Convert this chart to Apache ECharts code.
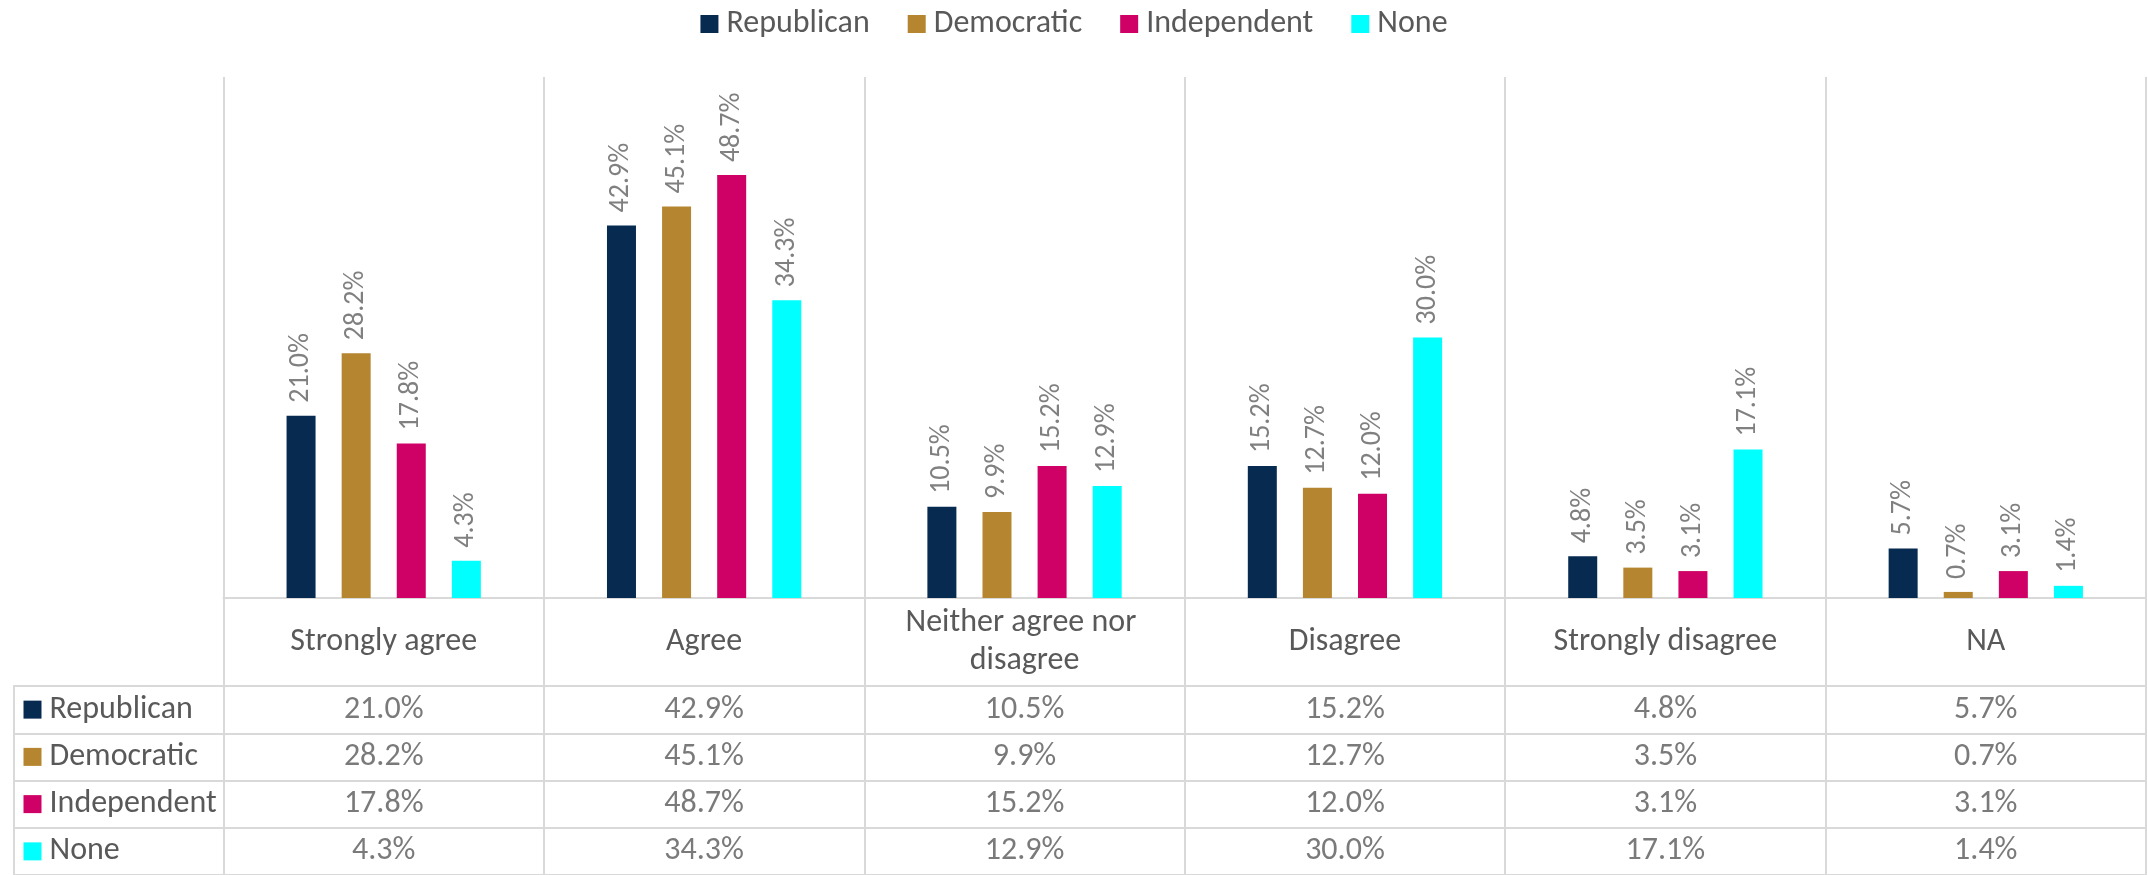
<!DOCTYPE html>
<html>
<head>
<meta charset="utf-8">
<script src="https://cdn.jsdelivr.net/npm/echarts@6/dist/echarts.min.js"></script>
<style>
html,body{margin:0;padding:0;background:#fff;}
#chart{width:2148px;height:875px;}
</style>
</head>
<body>
<div id="chart"></div>
<script>
const categories = ['Strongly agree', 'Agree', 'Neither agree nor disagree', 'Disagree', 'Strongly disagree', 'NA'];
const seriesNames = ['Republican', 'Democratic', 'Independent', 'None'];
const republican = [21.0, 42.9, 10.5, 15.2, 4.8, 5.7];
const democratic = [28.2, 45.1, 9.9, 12.7, 3.5, 0.7];
const independent = [17.8, 48.7, 15.2, 12.0, 3.1, 3.1];
const none = [4.3, 34.3, 12.9, 30.0, 17.1, 1.4];

const values = [republican, democratic, independent, none];
const colors = ['#072A50', '#B5852F', '#CF0066', '#00FFFF'];
const FONT = 'Carlito, Calibri, Lato, sans-serif';
const TXT = '#595959';
const LINE = '#D9D9D9';
const FS = 32;

const chart = echarts.init(document.getElementById('chart'));

const barSeries = seriesNames.map((name, i) => ({
  name: name,
  type: 'bar',
  xAxisIndex: 0,
  yAxisIndex: 0,
  data: values[i],
  barWidth: 29,
  barGap: '90%',
  itemStyle: { color: colors[i] },
  label: {
    show: true,
    position: 'top',
    rotate: 90,
    align: 'left',
    verticalAlign: 'middle',
    distance: 13,
    color: '#808080',
    fontFamily: FONT,
    fontSize: 28,
    formatter: p => p.value.toFixed(1) + '%'
  }
}));

const cellData = [];
values.forEach((arr, r) => arr.forEach((v, c) => cellData.push([c, r, v])));

const rich = { t: { color: TXT, fontSize: FS, fontFamily: FONT, padding: [0, 0, 0, 8] } };
seriesNames.forEach((n, i) => {
  rich['s' + i] = { width: 18, height: 18, backgroundColor: colors[i] };
});

chart.setOption({
  animation: false,
  backgroundColor: '#fff',
  legend: {
    data: seriesNames,
    top: 3,
    left: 'center',
    icon: 'rect',
    itemWidth: 18,
    itemHeight: 18,
    itemGap: 38,
    textStyle: { color: TXT, fontSize: FS, fontFamily: FONT, padding: [0, 0, 0, 3] }
  },
  grid: [
    { left: 223.5, right: 2, top: 77, bottom: 277 },
    { left: 223.5, right: 2, top: 686, bottom: 0 }
  ],
  xAxis: [
    {
      type: 'category', gridIndex: 0, data: categories, boundaryGap: true,
      axisLine: { show: true, lineStyle: { color: LINE, width: 2 } },
      axisTick: { show: true, length: 88, interval: 0, alignWithLabel: false, lineStyle: { color: LINE, width: 2 } },
      splitLine: { show: true, interval: 0, lineStyle: { color: LINE, width: 2 } },
      axisLabel: {
        interval: 0, margin: 44, verticalAlign: 'middle', color: TXT, fontSize: FS, fontFamily: FONT,
        width: 290, overflow: 'break', lineHeight: 38, align: 'center'
      }
    },
    {
      type: 'category', gridIndex: 1, data: categories, boundaryGap: true,
      axisLine: { show: false }, axisTick: { show: false }, axisLabel: { show: false },
      splitLine: { show: true, interval: 0, lineStyle: { color: LINE, width: 2 } }
    }
  ],
  yAxis: [
    { type: 'value', gridIndex: 0, min: 0, max: 60, show: false },
    {
      type: 'category', gridIndex: 1, data: seriesNames, inverse: true, boundaryGap: true,
      axisLine: { show: false },
      axisTick: { show: true, length: 210, interval: 0, alignWithLabel: false, lineStyle: { color: LINE, width: 2 } },
      splitLine: { show: true, interval: 0, lineStyle: { color: LINE, width: 2 } },
      axisLabel: {
        interval: 0, margin: 200, align: 'left', verticalAlign: 'middle',
        formatter: (v, i) => '{s' + i + '|}{t|' + v + '}',
        rich: rich
      }
    },
    {
      type: 'category', gridIndex: 1, data: seriesNames, inverse: true, position: 'left', offset: 210,
      axisLine: { show: true, lineStyle: { color: LINE, width: 2 } },
      axisTick: { show: false }, axisLabel: { show: false }, splitLine: { show: false }
    }
  ],
  series: barSeries.concat([{
    name: 'table',
    type: 'scatter',
    xAxisIndex: 1,
    yAxisIndex: 1,
    silent: true,
    symbolSize: 1,
    itemStyle: { color: 'rgba(0,0,0,0)' },
    data: cellData,
    label: {
      show: true,
      position: 'inside',
      color: TXT,
      fontSize: FS,
      fontFamily: FONT,
      formatter: p => p.data[2].toFixed(1) + '%'
    }
  }])
});
</script>
</body>
</html>
